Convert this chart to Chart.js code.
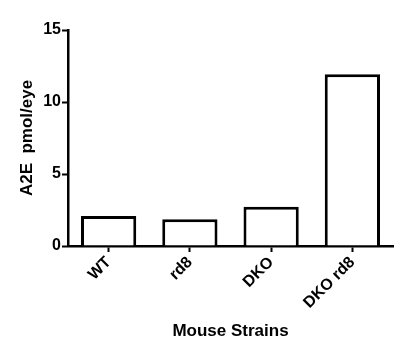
<!DOCTYPE html>
<html>
<head>
<meta charset="utf-8">
<script src="https://cdn.jsdelivr.net/npm/chart.js@4/dist/chart.umd.min.js"></script>
<style>
html,body{margin:0;padding:0;background:#fff;}
#wrap{width:404px;height:357px;position:relative;}
</style>
</head>
<body>
<div id="wrap"><canvas id="c" width="404" height="357"></canvas></div>
<script>
const categories = ["WT", "rd8", "DKO", "DKO rd8"];
const a2eValues = [2.08, 1.85, 2.72, 11.92];
const yTicks = [0, 5, 10, 15];
const yTitle = "A2E  pmol/eye";
const xTitle = "Mouse Strains";

const FONT = "'Liberation Sans', Arial, Helvetica, sans-serif";

new Chart(document.getElementById('c'), {
  type: 'bar',
  data: {
    labels: categories,
    datasets: [{
      data: a2eValues,
      backgroundColor: '#ffffff',
      borderColor: '#000000',
      borderWidth: 3,
      borderSkipped: 'bottom',
      barPercentage: 0.68,
      categoryPercentage: 1.0
    }]
  },
  options: {
    responsive: false,
    animation: false,
    devicePixelRatio: 1,
    layout: { padding: { top: 30, right: 11, left: 0, bottom: 0 } },
    plugins: { legend: { display: false }, tooltip: { enabled: false } },
    scales: {
      x: {
        grid: { display: true, offset: false, drawOnChartArea: false, drawTicks: true, tickLength: 6, tickColor: '#000', tickWidth: 2 },
        border: { display: true, color: '#000', width: 2.5 },
        ticks: {
          color: '#000',
          font: { family: FONT, size: 16, weight: 'bold' },
          maxRotation: 45, minRotation: 45,
          padding: 1,
          autoSkip: false
        },
        title: {
          display: true, text: xTitle, color: '#000',
          font: { family: FONT, size: 17, weight: 'bold' },
          padding: { top: 0, bottom: 15 }
        },
        afterFit: (s) => { s.height = 357 - 246; }
      },
      y: {
        min: 0, max: 15,
        afterBuildTicks: (s) => { s.ticks = yTicks.map(v => ({ value: v })); },
        grid: { display: true, drawOnChartArea: false, drawTicks: true, tickLength: 6, tickColor: '#000', tickWidth: 2 },
        border: { display: true, color: '#000', width: 2.5 },
        ticks: {
          color: '#000',
          font: { family: FONT, size: 16, weight: 'bold' },
          padding: 1
        },
        title: {
          display: true, text: yTitle, color: '#000',
          font: { family: FONT, size: 17, weight: 'bold' },
          padding: { top: 17, bottom: 0 }
        },
        afterFit: (s) => { s.width = 68; }
      }
    }
  }
});
</script>
</body>
</html>
